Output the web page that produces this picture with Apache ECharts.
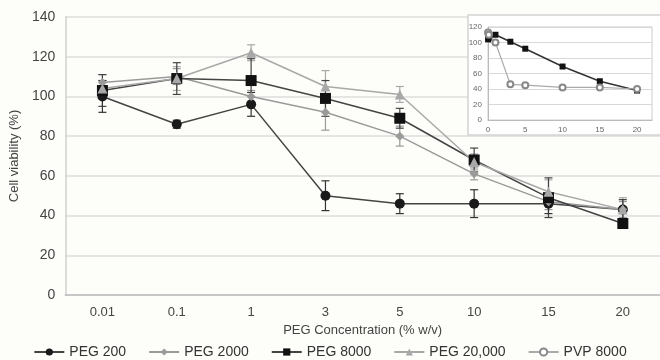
<!DOCTYPE html>
<html>
<head>
<meta charset="utf-8">
<script src="https://cdn.jsdelivr.net/npm/echarts@6/dist/echarts.min.js"></script>
<style>
  html, body { margin: 0; padding: 0; background: #fdfdfa; }
  #chart { width: 660px; height: 360px; }
</style>
</head>
<body>
<div id="chart"></div>
<script>
// main chart: concentrations on a category axis
const concLabels = ["0.01", "0.1", "1", "3", "5", "10", "15", "20"];
const peg200 = [100, 86, 96, 50, 46, 46, 46, 43];
const peg200Err = [8, 2, 6, 7.5, 5, 7, 5, 5];
const peg2000 = [107, 110, 100, 92, 80, 61, 47, 43];
const peg2000Err = [4, 4, 3, 9, 5, 3, 4, 4];
const peg8000 = [103, 109, 108, 99, 89, 68, 49, 36];
const peg8000Err = [8, 8, 11, 9, 5, 6, 10, 2];
const peg20000 = [104, 109, 122, 105, 101, 67, 52, 43];
const peg20000Err = [4, 6, 4, 8, 4, 4, 6, 6];

// inset: PEG 8000 vs PVP 8000 on a numeric axis
const insetX = [0.01, 0.1, 1, 3, 5, 10, 15, 20];
const insetPeg8000 = [104, 106, 110, 101, 92, 69, 50, 38];
const insetPeg8000Err = [4, 4, 8, 7, 4, 2, 2, 2];
const insetPvp8000 = [113, 110, 100, 46, 45, 42, 42, 40];
const insetPvp8000Err = [5, 5, 6, 8, 5, 4, 4, 4];

const FONT = "Liberation Sans, Arial, sans-serif";

function errData(xs, vals, errs) {
  return vals.map((v, i) => [xs[i], v - errs[i], v + errs[i]]);
}

function errorSeries(name, data, color, cap, gridIdx) {
  return {
    name: name + " err",
    type: "custom",
    xAxisIndex: gridIdx,
    yAxisIndex: gridIdx,
    z: 1,
    silent: true,
    encode: { x: 0, y: [1, 2] },
    data,
    renderItem: (params, api) => {
      const x = api.value(0);
      const top = api.coord([x, api.value(2)]);
      const bot = api.coord([x, api.value(1)]);
      const st = { stroke: color, lineWidth: 1.2 };
      return {
        type: "group",
        children: [
          { type: "line", shape: { x1: top[0], y1: top[1], x2: bot[0], y2: bot[1] }, style: st },
          { type: "line", shape: { x1: top[0] - cap, y1: top[1], x2: top[0] + cap, y2: top[1] }, style: st },
          { type: "line", shape: { x1: bot[0] - cap, y1: bot[1], x2: bot[0] + cap, y2: bot[1] }, style: st },
        ],
      };
    },
  };
}

function lineSeries(name, data, color, symbol, size, gridIdx, extra) {
  return Object.assign({
    name,
    type: "line",
    xAxisIndex: gridIdx,
    yAxisIndex: gridIdx,
    data,
    symbol,
    symbolSize: size,
    z: 3,
    lineStyle: { color, width: 1.5 },
    itemStyle: { color, opacity: 1 },
  }, extra || {});
}

const chart = echarts.init(document.getElementById("chart"), null, { renderer: "canvas" });
const idx = concLabels.map((_, i) => i);

const option = {
  backgroundColor: "#fdfdfa",
  animation: false,
  textStyle: { fontFamily: FONT },
  graphic: [
    {
      type: "rect",
      z: 5,
      shape: { x: 468, y: 15, width: 200, height: 120 },
      style: { fill: "#ffffff", stroke: "#d4d4d4", lineWidth: 1.5 },
    },
  ],
  legend: {
    bottom: 0,
    left: "center",
    padding: [5, 5, 1, 5],
    itemWidth: 30,
    itemHeight: 9,
    itemGap: 22,
    data: ["PEG 200", "PEG 2000", "PEG 8000", "PEG 20,000", "PVP 8000"],
    textStyle: { color: "#333", fontSize: 14, fontFamily: FONT },
  },
  grid: [
    { left: 63, top: 17, width: 602, height: 278 },
    { left: 488, top: 27, width: 164, height: 93, show: true, backgroundColor: "#fff", borderColor: "#ccc", borderWidth: 1, z: 6 },
  ],
  xAxis: [
    {
      type: "category",
      gridIndex: 0,
      data: concLabels,
      boundaryGap: true,
      name: "PEG Concentration (% w/v)",
      nameLocation: "middle",
      nameGap: 28,
      nameTextStyle: { color: "#444", fontSize: 13, fontFamily: FONT },
      axisLine: { lineStyle: { color: "#bdbdbd", width: 1.5 } },
      axisTick: { show: false },
      axisLabel: { color: "#444", fontSize: 13, margin: 11 },
    },
    {
      type: "value",
      gridIndex: 1,
      min: 0,
      max: 22,
      interval: 5,
      z: 7,
      axisLine: { lineStyle: { color: "#bbb" } },
      axisTick: { show: false },
      splitLine: { show: false },
      axisLabel: { color: "#666", fontSize: 8, margin: 6, showMaxLabel: false },
    },
  ],
  yAxis: [
    {
      type: "value",
      gridIndex: 0,
      min: 0,
      max: 140,
      interval: 20,
      name: "Cell viability (%)",
      nameLocation: "middle",
      nameGap: 38,
      nameTextStyle: { color: "#444", fontSize: 13, fontFamily: FONT },
      axisLine: { show: true, lineStyle: { color: "#d0d0d0", width: 1.5 } },
      axisTick: { show: false },
      splitLine: { lineStyle: { color: "#dcdcdc", width: 1.5 } },
      axisLabel: { color: "#444", fontSize: 14, margin: 10 },
    },
    {
      type: "value",
      gridIndex: 1,
      min: 0,
      max: 120,
      interval: 20,
      z: 7,
      axisLine: { show: true, lineStyle: { color: "#bbb" } },
      axisTick: { show: false },
      splitLine: { lineStyle: { color: "#d8d8d8" } },
      axisLabel: { color: "#666", fontSize: 8, margin: 6 },
    },
  ],
  series: [
    errorSeries("PEG 2000", errData(idx, peg2000, peg2000Err), "#9a9a9a", 4, 0),
    errorSeries("PEG 20,000", errData(idx, peg20000, peg20000Err), "#a8a8a8", 4, 0),
    errorSeries("PEG 8000", errData(idx, peg8000, peg8000Err), "#444", 4, 0),
    errorSeries("PEG 200", errData(idx, peg200, peg200Err), "#333", 4, 0),
    lineSeries("PEG 200", peg200, "#1a1a1a", "circle", 10, 0, { lineStyle: { color: "#444", width: 1.5 } }),
    lineSeries("PEG 2000", peg2000, "#9a9a9a", "diamond", 9, 0),
    lineSeries("PEG 8000", peg8000, "#111", "rect", 11, 0, { lineStyle: { color: "#444", width: 1.5 } }),
    lineSeries("PEG 20,000", peg20000, "#a8a8a8", "triangle", 10, 0),
    errorSeries("PEG 8000 inset", errData(insetX, insetPeg8000, insetPeg8000Err), "#555", 2.5, 1),
    errorSeries("PVP 8000 inset", errData(insetX, insetPvp8000, insetPvp8000Err), "#888", 2.5, 1),
    lineSeries("PEG 8000 inset", insetX.map((x, i) => [x, insetPeg8000[i]]), "#111", "rect", 6, 1, {
      lineStyle: { color: "#333", width: 1.5 }, z: 8,
    }),
    lineSeries("PVP 8000", insetX.map((x, i) => [x, insetPvp8000[i]]), "#999", "emptyCircle", 6, 1, {
      lineStyle: { color: "#aaa", width: 1.2 }, itemStyle: { color: "#888", borderColor: "#888", borderWidth: 1.2 }, z: 8,
    }),
  ],
};

chart.setOption(option);
</script>
</body>
</html>
